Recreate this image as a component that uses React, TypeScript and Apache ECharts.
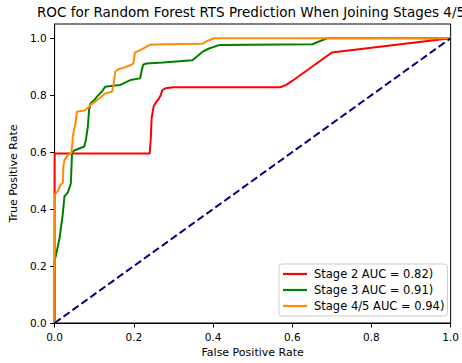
import React, { useEffect, useRef } from "react";
import * as echarts from "echarts";

// ROC curve points (false positive rate / true positive rate) per stage
const fprStage2 = [0, 0, 0.24, 0.243, 0.245, 0.25, 0.257, 0.262, 0.268, 0.272, 0.28, 0.3, 0.57, 0.585, 0.6, 0.62, 0.65, 0.7, 1.0];
const tprStage2 = [0, 0.595, 0.595, 0.65, 0.72, 0.76, 0.778, 0.785, 0.8, 0.818, 0.824, 0.828, 0.828, 0.836, 0.85, 0.87, 0.9, 0.95, 1.0];

const fprStage3 = [0, 0, 0.003, 0.012, 0.02, 0.025, 0.033, 0.041, 0.043, 0.044, 0.048, 0.075, 0.079, 0.084, 0.087, 0.091, 0.1, 0.107, 0.119, 0.128, 0.141, 0.166, 0.182, 0.191, 0.216, 0.22, 0.224, 0.232, 0.274, 0.348, 0.373, 0.39, 0.415, 0.651, 0.688, 1.0];
const tprStage3 = [0, 0.22, 0.235, 0.294, 0.375, 0.445, 0.457, 0.49, 0.56, 0.595, 0.605, 0.62, 0.643, 0.69, 0.748, 0.772, 0.783, 0.795, 0.812, 0.83, 0.832, 0.836, 0.847, 0.853, 0.859, 0.888, 0.908, 0.911, 0.915, 0.923, 0.952, 0.964, 0.976, 0.979, 1.0, 1.0];

const fprStage45 = [0, 0, 0.008, 0.015, 0.021, 0.022, 0.025, 0.032, 0.042, 0.045, 0.046, 0.049, 0.052, 0.054, 0.056, 0.075, 0.083, 0.091, 0.108, 0.129, 0.145, 0.149, 0.153, 0.162, 0.174, 0.192, 0.199, 0.203, 0.216, 0.228, 0.24, 0.274, 0.373, 0.39, 0.402, 1.0];
const tprStage45 = [0, 0.451, 0.463, 0.486, 0.492, 0.55, 0.573, 0.587, 0.597, 0.632, 0.655, 0.678, 0.696, 0.713, 0.742, 0.746, 0.754, 0.766, 0.783, 0.807, 0.812, 0.836, 0.882, 0.892, 0.896, 0.906, 0.911, 0.95, 0.958, 0.967, 0.977, 0.979, 0.981, 0.993, 1.0, 1.0];

const chanceFpr = [0, 1];
const chanceTpr = [0, 1];

const seriesNames = ["Stage 2 AUC = 0.82)", "Stage 3 AUC = 0.91)", "Stage 4/5 AUC = 0.94)"];
const tickValues = [0, 0.2, 0.4, 0.6, 0.8, 1.0];

const FONT = "DejaVu Sans";

const zip = (xs: number[], ys: number[]) => xs.map((x, i) => [x, ys[i]]);

export default function App() {
  const ref = useRef<HTMLDivElement>(null);

  useEffect(() => {
    if (!ref.current) return;
    const chart = echarts.init(ref.current, undefined, { renderer: "svg" });

    const axisCommon = {
      type: "value" as const,
      splitLine: { show: false },
      axisLine: { show: true, onZero: false, lineStyle: { color: "#000", width: 1 } },
      axisTick: { show: true, length: 4.5, lineStyle: { color: "#000", width: 1 }, customValues: tickValues },
      axisLabel: {
        color: "#000",
        fontFamily: FONT,
        fontSize: 10.5,
        customValues: tickValues,
        formatter: (v: number) => v.toFixed(1),
      },
      nameLocation: "middle" as const,
      nameTextStyle: { color: "#000", fontFamily: FONT, fontSize: 11 },
    };

    const lineSeries = (name: string, data: number[][], color: string) => ({
      name,
      type: "line" as const,
      data,
      showSymbol: false,
      symbol: "none",
      lineStyle: { color, width: 2 },
      itemStyle: { color },
      z: 2,
    });

    chart.setOption({
      animation: false,
      grid: {
        left: 50,
        right: 10,
        top: 24,
        bottom: 39,
        show: true,
        borderColor: "#000",
        borderWidth: 1,
        backgroundColor: "transparent",
      },
      graphic: [
        {
          type: "text",
          x: 251,
          y: 12,
          style: {
            text: "ROC for Random Forest RTS Prediction When Joining Stages 4/5",
            fontFamily: FONT,
            fontSize: 13.5,
            fill: "#000",
            textAlign: "center",
            textVerticalAlign: "middle",
          },
        },
      ],
      xAxis: {
        ...axisCommon,
        min: 0,
        max: 1,
        interval: 0.2,
        name: "False Positive Rate",
        nameGap: 24,
        axisLabel: { ...axisCommon.axisLabel, margin: 8 },
      },
      yAxis: {
        ...axisCommon,
        min: 0,
        max: 1.05,
        interval: 0.2,
        name: "True Positive Rate",
        nameGap: 32,
        axisLabel: { ...axisCommon.axisLabel, margin: 8 },
      },
      legend: {
        data: seriesNames,
        orient: "vertical",
        left: 279,
        top: 264,
        icon: "rect",
        itemWidth: 24,
        itemHeight: 2.2,
        itemGap: 4,
        padding: [4, 3, 4, 4],
        borderColor: "#cccccc",
        borderWidth: 1,
        borderRadius: 3,
        backgroundColor: "rgba(255,255,255,0.8)",
        textStyle: { color: "#000", fontFamily: FONT, fontSize: 11.5, padding: [0, 0, 0, 2] },
      },
      series: [
        lineSeries(seriesNames[0], zip(fprStage2, tprStage2), "#ff0000"),
        lineSeries(seriesNames[1], zip(fprStage3, tprStage3), "#008000"),
        lineSeries(seriesNames[2], zip(fprStage45, tprStage45), "#ff8c00"),
        {
          name: "chance",
          type: "line",
          data: zip(chanceFpr, chanceTpr),
          showSymbol: false,
          symbol: "none",
          lineStyle: { color: "#000080", width: 2, type: [7.5, 3.5] },
          z: 3,
        },
      ],
    });

    return () => chart.dispose();
  }, []);

  return (
    <div
      ref={ref}
      style={{ position: "fixed", left: 0, top: 0, width: 462, height: 363, background: "#fff" }}
    />
  );
}
